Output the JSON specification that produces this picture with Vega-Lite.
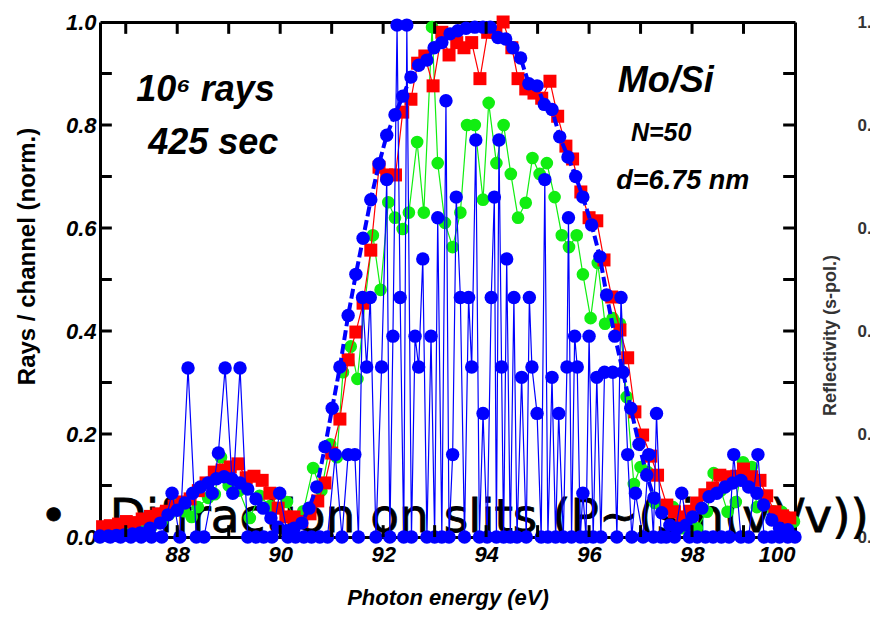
{
  "$schema": "https://vega.github.io/schema/vega-lite/v6.json",
  "width": 695,
  "height": 515,
  "autosize": {"type": "none"},
  "padding": {"left": 100, "top": 22, "right": 75, "bottom": 81},
  "config": {"view": {"stroke": null}, "font": "Liberation Sans"},
  "resolve": {"axis": {"x": "independent", "y": "independent"}},
  "layer": [
    {
      "data": {"values": [{"x": 85.33, "y": 0.01, "t": "•"}, {"x": 86.69, "y": 0.01, "t": "Diffraction on slits (P~(sin(v)/v))"}]},
      "mark": {"type": "text", "font": "DejaVu Sans", "fontSize": 47, "align": "left", "baseline": "alphabetic", "color": "black", "stroke": "black", "strokeWidth": 0.8},
      "encoding": {
        "x": {"field": "x", "type": "quantitative", "scale": {"domain": [86.5, 100], "nice": false}, "axis": null},
        "y": {"field": "y", "type": "quantitative", "scale": {"domain": [0, 1], "nice": false}, "axis": null},
        "text": {"field": "t"}
      }
    },
    {
      "data": {"values": [
        {"x":86.5,"y":0.0},{"x":86.7,"y":0.005},{"x":86.9,"y":0.008},{"x":87.1,"y":0.01},{"x":87.3,"y":0.012},{"x":87.5,"y":0.02},{"x":87.7,"y":0.03},{"x":87.85,"y":0.045},{"x":88.0,"y":0.066},{"x":88.13,"y":0.05},{"x":88.28,"y":0.039},{"x":88.4,"y":0.058},{"x":88.6,"y":0.076},{"x":88.73,"y":0.083},{"x":88.85,"y":0.155},{"x":89.0,"y":0.1},{"x":89.2,"y":0.09},{"x":89.41,"y":0.037},{"x":89.6,"y":0.08},{"x":89.8,"y":0.06},{"x":89.98,"y":0.085},{"x":90.13,"y":0.068},{"x":90.3,"y":0.03},{"x":90.45,"y":0.05},{"x":90.64,"y":0.134},{"x":90.8,"y":0.09},{"x":90.97,"y":0.18},{"x":91.1,"y":0.155},{"x":91.22,"y":0.32},{"x":91.37,"y":0.37},{"x":91.5,"y":0.307},{"x":91.65,"y":0.46},{"x":91.8,"y":0.586},{"x":91.95,"y":0.48},{"x":92.1,"y":0.65},{"x":92.23,"y":0.62},{"x":92.38,"y":0.598},{"x":92.5,"y":0.63},{"x":92.66,"y":0.767},{"x":92.79,"y":0.63},{"x":92.95,"y":0.99},{"x":93.06,"y":0.726},{"x":93.2,"y":0.61},{"x":93.35,"y":0.563},{"x":93.5,"y":0.63},{"x":93.63,"y":0.8},{"x":93.78,"y":0.8},{"x":93.94,"y":0.655},{"x":94.05,"y":0.843},{"x":94.2,"y":0.726},{"x":94.34,"y":0.8},{"x":94.48,"y":0.705},{"x":94.62,"y":0.62},{"x":94.77,"y":0.649},{"x":94.9,"y":0.736},{"x":95.04,"y":0.705},{"x":95.18,"y":0.726},{"x":95.33,"y":0.66},{"x":95.47,"y":0.586},{"x":95.61,"y":0.563},{"x":95.76,"y":0.586},{"x":95.88,"y":0.51},{"x":96.03,"y":0.425},{"x":96.17,"y":0.532},{"x":96.31,"y":0.414},{"x":96.46,"y":0.425},{"x":96.6,"y":0.414},{"x":96.73,"y":0.272},{"x":96.87,"y":0.103},{"x":97.0,"y":0.136},{"x":97.14,"y":0.126},{"x":97.28,"y":0.066},{"x":97.47,"y":0.058},{"x":97.63,"y":0.058},{"x":97.8,"y":0.017},{"x":97.95,"y":0.02},{"x":98.09,"y":0.017},{"x":98.29,"y":0.049},{"x":98.42,"y":0.124},{"x":98.56,"y":0.09},{"x":98.69,"y":0.049},{"x":98.85,"y":0.068},{"x":98.99,"y":0.145},{"x":99.16,"y":0.136},{"x":99.26,"y":0.058},{"x":99.41,"y":0.07},{"x":99.58,"y":0.05},{"x":99.74,"y":0.049},{"x":99.84,"y":0.039},{"x":99.98,"y":0.03}
      ]},
      "mark": {"type": "line", "color": "#11ee11", "strokeWidth": 1.2, "point": {"filled": true, "shape": "circle", "size": 160, "color": "#11ee11"}},
      "encoding": {
        "x": {"field": "x", "type": "quantitative", "scale": {"domain": [86.5, 100], "nice": false},
          "axis": {"orient": "bottom", "values": [88,90,92,94,96,98,100], "format": "d",
            "grid": false, "domainColor": "black", "domainWidth": 3, "ticks": false, "tickSize": 0, "labelPadding": 7,
            "labelFont": "Liberation Sans", "labelFontSize": 22, "labelFontWeight": "bold", "labelFontStyle": "italic", "labelColor": "black",
            "title": "Photon energy (eV)", "titleFont": "Liberation Sans", "titleFontSize": 22, "titleFontWeight": "bold", "titleFontStyle": "italic", "titleColor": "black", "titleY": 60, "titleBaseline": "middle"}},
        "y": {"field": "y", "type": "quantitative", "scale": {"domain": [0, 1], "nice": false},
          "axis": {"orient": "left", "values": [0,0.2,0.4,0.6,0.8,1.0], "format": ".1f",
            "grid": false, "domainColor": "black", "domainWidth": 3, "ticks": false, "tickSize": 0, "labelPadding": 4,
            "labelFont": "Liberation Sans", "labelFontSize": 22, "labelFontWeight": "bold", "labelFontStyle": "italic", "labelColor": "black",
            "title": "Rays / channel (norm.)", "titleFont": "Liberation Sans", "titleFontSize": 24, "titleFontWeight": "bold", "titleColor": "black",
            "titleAngle": 270, "titleX": -73, "titleY": 234, "titleAlign": "center", "titleBaseline": "middle"}}
      }
    },
    {
      "data": {"values": [
        {"x":86.55,"y":0.02},{"x":86.7,"y":0.022},{"x":86.86,"y":0.025},{"x":87.01,"y":0.03},{"x":87.17,"y":0.028},{"x":87.32,"y":0.035},{"x":87.48,"y":0.04},{"x":87.63,"y":0.045},{"x":87.79,"y":0.05},{"x":87.94,"y":0.06},{"x":88.1,"y":0.068},{"x":88.25,"y":0.074},{"x":88.41,"y":0.09},{"x":88.56,"y":0.105},{"x":88.72,"y":0.126},{"x":88.87,"y":0.13},{"x":89.03,"y":0.136},{"x":89.18,"y":0.142},{"x":89.34,"y":0.115},{"x":89.49,"y":0.118},{"x":89.65,"y":0.11},{"x":89.8,"y":0.085},{"x":89.96,"y":0.056},{"x":90.11,"y":0.039},{"x":90.27,"y":0.039},{"x":90.42,"y":0.03},{"x":90.58,"y":0.045},{"x":90.73,"y":0.07},{"x":90.87,"y":0.105},{"x":91.0,"y":0.163},{"x":91.16,"y":0.229},{"x":91.32,"y":0.344},{"x":91.47,"y":0.398},{"x":91.61,"y":0.454},{"x":91.76,"y":0.557},{"x":91.92,"y":0.718},{"x":92.07,"y":0.703},{"x":92.24,"y":0.703},{"x":92.38,"y":0.825},{"x":92.54,"y":0.85},{"x":92.67,"y":0.92},{"x":92.81,"y":0.934},{"x":92.97,"y":0.876},{"x":93.14,"y":0.98},{"x":93.28,"y":0.936},{"x":93.43,"y":0.96},{"x":93.57,"y":0.95},{"x":93.72,"y":0.96},{"x":93.88,"y":0.89},{"x":94.03,"y":0.98},{"x":94.19,"y":0.98},{"x":94.33,"y":1.0},{"x":94.5,"y":0.95},{"x":94.62,"y":0.89},{"x":94.77,"y":0.87},{"x":94.93,"y":0.862},{"x":95.08,"y":0.852},{"x":95.24,"y":0.885},{"x":95.39,"y":0.817},{"x":95.55,"y":0.759},{"x":95.68,"y":0.734},{"x":95.84,"y":0.67},{"x":96.0,"y":0.62},{"x":96.15,"y":0.614},{"x":96.29,"y":0.538},{"x":96.44,"y":0.466},{"x":96.6,"y":0.402},{"x":96.75,"y":0.348},{"x":96.89,"y":0.243},{"x":97.04,"y":0.198},{"x":97.2,"y":0.157},{"x":97.33,"y":0.12},{"x":97.51,"y":0.062},{"x":97.66,"y":0.049},{"x":97.8,"y":0.039},{"x":97.95,"y":0.05},{"x":98.09,"y":0.066},{"x":98.25,"y":0.082},{"x":98.4,"y":0.095},{"x":98.54,"y":0.12},{"x":98.69,"y":0.117},{"x":98.87,"y":0.118},{"x":99.0,"y":0.132},{"x":99.16,"y":0.117},{"x":99.32,"y":0.11},{"x":99.45,"y":0.08},{"x":99.61,"y":0.049},{"x":99.76,"y":0.041},{"x":99.9,"y":0.037}
      ]},
      "mark": {"type": "line", "color": "#ff0000", "strokeWidth": 1.2, "point": {"filled": true, "shape": "square", "size": 169, "color": "#ff0000"}},
      "encoding": {
        "x": {"field": "x", "type": "quantitative", "scale": {"domain": [86.5, 100], "nice": false},
          "axis": {"orient": "top", "values": [88,90,92,94,96,98,100], "labels": false, "title": null, "ticks": false,
            "grid": false, "domainColor": "black", "domainWidth": 3}},
        "y": {"field": "y", "type": "quantitative", "scale": {"domain": [0, 1], "nice": false},
          "axis": {"orient": "right", "values": [0,0.2,0.4,0.6,0.8,1.0], "format": ".1f",
            "grid": false, "domainColor": "black", "domainWidth": 3, "ticks": false, "tickSize": 0, "labelPadding": 62,
            "labelFont": "Liberation Sans", "labelFontSize": 17, "labelFontWeight": "bold", "labelColor": "#333333", "labelAlign": "left",
            "title": "Reflectivity (s-pol.)", "titleFont": "Liberation Sans", "titleFontSize": 18, "titleFontWeight": "bold", "titleColor": "#333333",
            "titleAngle": 270, "titleX": 35, "titleY": 313, "titleAlign": "center", "titleBaseline": "middle"}}
      }
    },
    {
      "data": {"values": [
        {"x":86.5,"y":0},{"x":86.7,"y":0},{"x":86.9,"y":0},{"x":87.1,"y":0},{"x":87.3,"y":0},{"x":87.5,"y":0},{"x":87.7,"y":0},{"x":87.9,"y":0.085},{"x":88.05,"y":0},{"x":88.21,"y":0.328},{"x":88.37,"y":0},{"x":88.52,"y":0},{"x":88.68,"y":0.085},{"x":88.8,"y":0.163},{"x":88.93,"y":0.328},{"x":89.08,"y":0.085},{"x":89.22,"y":0.328},{"x":89.37,"y":0},{"x":89.53,"y":0},{"x":89.68,"y":0},{"x":89.84,"y":0},{"x":89.99,"y":0.085},{"x":90.15,"y":0},{"x":90.3,"y":0},{"x":90.46,"y":0},{"x":90.61,"y":0},{"x":90.77,"y":0},{"x":90.92,"y":0},{"x":91.07,"y":0.16},{"x":91.2,"y":0},{"x":91.32,"y":0.16},{"x":91.45,"y":0.16},{"x":91.52,"y":0},{"x":91.6,"y":0.465},{"x":91.68,"y":0.33},{"x":91.75,"y":0.465},{"x":91.86,"y":0},{"x":91.97,"y":0.33},{"x":92.07,"y":0.694},{"x":92.13,"y":0},{"x":92.19,"y":0.39},{"x":92.27,"y":0.994},{"x":92.33,"y":0.465},{"x":92.4,"y":0},{"x":92.46,"y":0.994},{"x":92.55,"y":0},{"x":92.62,"y":0.39},{"x":92.69,"y":0.33},{"x":92.77,"y":0.54},{"x":92.85,"y":0},{"x":92.93,"y":0.39},{"x":93.0,"y":0},{"x":93.06,"y":0.62},{"x":93.14,"y":0},{"x":93.22,"y":0.847},{"x":93.28,"y":0},{"x":93.35,"y":0.16},{"x":93.42,"y":0.66},{"x":93.5,"y":0.465},{"x":93.58,"y":0},{"x":93.66,"y":0.465},{"x":93.72,"y":0.33},{"x":93.8,"y":0.771},{"x":93.87,"y":0},{"x":93.94,"y":0.24},{"x":94.02,"y":0},{"x":94.1,"y":0.465},{"x":94.16,"y":0.66},{"x":94.2,"y":0},{"x":94.25,"y":0.771},{"x":94.3,"y":0.33},{"x":94.34,"y":0},{"x":94.4,"y":0.54},{"x":94.47,"y":0},{"x":94.54,"y":0.465},{"x":94.6,"y":0},{"x":94.69,"y":0.31},{"x":94.78,"y":0},{"x":94.84,"y":0.465},{"x":94.89,"y":0.33},{"x":94.99,"y":0.24},{"x":95.07,"y":0},{"x":95.14,"y":0.694},{"x":95.2,"y":0},{"x":95.28,"y":0.31},{"x":95.35,"y":0},{"x":95.41,"y":0.24},{"x":95.5,"y":0},{"x":95.57,"y":0.33},{"x":95.6,"y":0.62},{"x":95.66,"y":0},{"x":95.72,"y":0.39},{"x":95.77,"y":0.33},{"x":95.83,"y":0},{"x":95.88,"y":0.085},{"x":95.94,"y":0},{"x":96.0,"y":0.39},{"x":96.08,"y":0},{"x":96.15,"y":0.31},{"x":96.23,"y":0},{"x":96.3,"y":0.32},{"x":96.46,"y":0.32},{"x":96.54,"y":0},{"x":96.62,"y":0.465},{"x":96.75,"y":0.16},{"x":96.83,"y":0},{"x":96.9,"y":0.085},{"x":97.05,"y":0},{"x":97.16,"y":0.16},{"x":97.25,"y":0},{"x":97.31,"y":0.24},{"x":97.4,"y":0},{"x":97.5,"y":0},{"x":97.66,"y":0},{"x":97.8,"y":0.085},{"x":97.95,"y":0},{"x":98.1,"y":0},{"x":98.26,"y":0},{"x":98.41,"y":0},{"x":98.57,"y":0},{"x":98.72,"y":0},{"x":98.81,"y":0.16},{"x":98.95,"y":0},{"x":99.1,"y":0},{"x":99.28,"y":0.16},{"x":99.4,"y":0},{"x":99.55,"y":0},{"x":99.7,"y":0},{"x":99.86,"y":0},{"x":100.0,"y":0}
      ]},
      "mark": {"type": "line", "color": "#0000ff", "strokeWidth": 1.2, "point": {"filled": true, "shape": "circle", "size": 180, "color": "#0000ff"}},
      "encoding": {
        "x": {"field": "x", "type": "quantitative", "scale": {"domain": [86.5, 100], "nice": false}, "axis": null},
        "y": {"field": "y", "type": "quantitative", "scale": {"domain": [0, 1], "nice": false}, "axis": null}
      }
    },
    {
      "data": {"values": [
        {"x":86.5,"y":0.002},{"x":86.66,"y":0.002},{"x":86.82,"y":0.003},{"x":86.97,"y":0.004},{"x":87.13,"y":0.006},{"x":87.28,"y":0.008},{"x":87.47,"y":0.017},{"x":87.67,"y":0.027},{"x":87.82,"y":0.043},{"x":88.0,"y":0.052},{"x":88.15,"y":0.066},{"x":88.3,"y":0.085},{"x":88.45,"y":0.097},{"x":88.6,"y":0.105},{"x":88.76,"y":0.113},{"x":88.91,"y":0.117},{"x":89.06,"y":0.113},{"x":89.22,"y":0.105},{"x":89.37,"y":0.093},{"x":89.53,"y":0.074},{"x":89.67,"y":0.056},{"x":89.82,"y":0.037},{"x":89.96,"y":0.019},{"x":90.13,"y":0.012},{"x":90.27,"y":0.017},{"x":90.42,"y":0.027},{"x":90.56,"y":0.056},{"x":90.71,"y":0.097},{"x":90.87,"y":0.175},{"x":91.01,"y":0.25},{"x":91.16,"y":0.33},{"x":91.32,"y":0.43},{"x":91.47,"y":0.51},{"x":91.61,"y":0.58},{"x":91.76,"y":0.655},{"x":91.92,"y":0.725},{"x":92.07,"y":0.78},{"x":92.23,"y":0.82},{"x":92.38,"y":0.856},{"x":92.54,"y":0.893},{"x":92.69,"y":0.916},{"x":92.85,"y":0.926},{"x":92.99,"y":0.95},{"x":93.14,"y":0.96},{"x":93.3,"y":0.977},{"x":93.45,"y":0.983},{"x":93.61,"y":0.988},{"x":93.78,"y":0.99},{"x":93.94,"y":0.99},{"x":94.08,"y":0.99},{"x":94.23,"y":0.97},{"x":94.38,"y":0.967},{"x":94.52,"y":0.95},{"x":94.67,"y":0.93},{"x":94.83,"y":0.88},{"x":94.99,"y":0.876},{"x":95.13,"y":0.84},{"x":95.28,"y":0.83},{"x":95.43,"y":0.777},{"x":95.59,"y":0.738},{"x":95.74,"y":0.7},{"x":95.88,"y":0.66},{"x":96.05,"y":0.606},{"x":96.21,"y":0.544},{"x":96.34,"y":0.47},{"x":96.5,"y":0.39},{"x":96.66,"y":0.32},{"x":96.81,"y":0.25},{"x":96.97,"y":0.18},{"x":97.12,"y":0.12},{"x":97.26,"y":0.076},{"x":97.41,"y":0.047},{"x":97.57,"y":0.023},{"x":97.72,"y":0.017},{"x":97.88,"y":0.023},{"x":98.01,"y":0.039},{"x":98.19,"y":0.056},{"x":98.33,"y":0.078},{"x":98.48,"y":0.085},{"x":98.64,"y":0.097},{"x":98.79,"y":0.105},{"x":98.95,"y":0.11},{"x":99.1,"y":0.097},{"x":99.26,"y":0.085},{"x":99.39,"y":0.062},{"x":99.55,"y":0.033},{"x":99.7,"y":0.017},{"x":99.86,"y":0.014}
      ]},
      "mark": {"type": "line", "color": "#0000ff", "strokeWidth": 4, "strokeDash": [10, 4], "point": {"filled": true, "shape": "circle", "size": 180, "color": "#0000ff"}},
      "encoding": {
        "x": {"field": "x", "type": "quantitative", "scale": {"domain": [86.5, 100], "nice": false}, "axis": null},
        "y": {"field": "y", "type": "quantitative", "scale": {"domain": [0, 1], "nice": false}, "axis": null}
      }
    },
    {
      "data": {"values": [{"x": 88.55, "y": 0.868, "t": "10⁶ rays"}, {"x": 88.7, "y": 0.765, "t": "425 sec"}]},
      "mark": {"type": "text", "font": "Liberation Sans", "fontSize": 36, "fontWeight": "bold", "fontStyle": "italic", "align": "center", "baseline": "middle", "color": "black"},
      "encoding": {
        "x": {"field": "x", "type": "quantitative", "scale": {"domain": [86.5, 100], "nice": false}, "axis": null},
        "y": {"field": "y", "type": "quantitative", "scale": {"domain": [0, 1], "nice": false}, "axis": null},
        "text": {"field": "t"}
      }
    },
    {
      "data": {"values": [{"x": 97.49, "y": 0.885, "t": "Mo/Si"}]},
      "mark": {"type": "text", "font": "Liberation Sans", "fontSize": 36, "fontWeight": "bold", "fontStyle": "italic", "align": "center", "baseline": "middle", "color": "black"},
      "encoding": {
        "x": {"field": "x", "type": "quantitative", "scale": {"domain": [86.5, 100], "nice": false}, "axis": null},
        "y": {"field": "y", "type": "quantitative", "scale": {"domain": [0, 1], "nice": false}, "axis": null},
        "text": {"field": "t"}
      }
    },
    {
      "data": {"values": [{"x": 97.4, "y": 0.784, "t": "N=50"}]},
      "mark": {"type": "text", "font": "Liberation Sans", "fontSize": 25, "fontWeight": "bold", "fontStyle": "italic", "align": "center", "baseline": "middle", "color": "black"},
      "encoding": {
        "x": {"field": "x", "type": "quantitative", "scale": {"domain": [86.5, 100], "nice": false}, "axis": null},
        "y": {"field": "y", "type": "quantitative", "scale": {"domain": [0, 1], "nice": false}, "axis": null},
        "text": {"field": "t"}
      }
    },
    {
      "data": {"values": [{"x": 97.82, "y": 0.691, "t": "d=6.75 nm"}]},
      "mark": {"type": "text", "font": "Liberation Sans", "fontSize": 27, "fontWeight": "bold", "fontStyle": "italic", "align": "center", "baseline": "middle", "color": "black"},
      "encoding": {
        "x": {"field": "x", "type": "quantitative", "scale": {"domain": [86.5, 100], "nice": false}, "axis": null},
        "y": {"field": "y", "type": "quantitative", "scale": {"domain": [0, 1], "nice": false}, "axis": null},
        "text": {"field": "t"}
      }
    },
    {
      "data": {"values": [{"v":87},{"v":88},{"v":89},{"v":90},{"v":91},{"v":92},{"v":93},{"v":94},{"v":95},{"v":96},{"v":97},{"v":98},{"v":99}]},
      "mark": {"type": "rule", "color": "black", "strokeWidth": 3},
      "encoding": {
        "x": {"field": "v", "type": "quantitative", "scale": {"domain": [86.5, 100], "nice": false}, "axis": null},
        "y": {"datum": 1, "scale": {"domain": [0, 1], "nice": false}, "axis": null},
        "y2": {"datum": 0.977}
      }
    },
    {
      "data": {"values": [{"v":87},{"v":88},{"v":89},{"v":90},{"v":91},{"v":92},{"v":93},{"v":94},{"v":95},{"v":96},{"v":97},{"v":98},{"v":99}]},
      "mark": {"type": "rule", "color": "black", "strokeWidth": 3},
      "encoding": {
        "x": {"field": "v", "type": "quantitative", "scale": {"domain": [86.5, 100], "nice": false}, "axis": null},
        "y": {"datum": 0, "scale": {"domain": [0, 1], "nice": false}, "axis": null},
        "y2": {"datum": 0.023}
      }
    },
    {
      "data": {"values": [{"v":0.1},{"v":0.2},{"v":0.3},{"v":0.4},{"v":0.5},{"v":0.6},{"v":0.7},{"v":0.8},{"v":0.9}]},
      "mark": {"type": "rule", "color": "black", "strokeWidth": 3},
      "encoding": {
        "y": {"field": "v", "type": "quantitative", "scale": {"domain": [0, 1], "nice": false}, "axis": null},
        "x": {"datum": 86.5, "scale": {"domain": [86.5, 100], "nice": false}, "axis": null},
        "x2": {"datum": 86.73}
      }
    },
    {
      "data": {"values": [{"v":0.1},{"v":0.2},{"v":0.3},{"v":0.4},{"v":0.5},{"v":0.6},{"v":0.7},{"v":0.8},{"v":0.9}]},
      "mark": {"type": "rule", "color": "black", "strokeWidth": 3},
      "encoding": {
        "y": {"field": "v", "type": "quantitative", "scale": {"domain": [0, 1], "nice": false}, "axis": null},
        "x": {"datum": 100, "scale": {"domain": [86.5, 100], "nice": false}, "axis": null},
        "x2": {"datum": 99.77}
      }
    }
  ]
}
